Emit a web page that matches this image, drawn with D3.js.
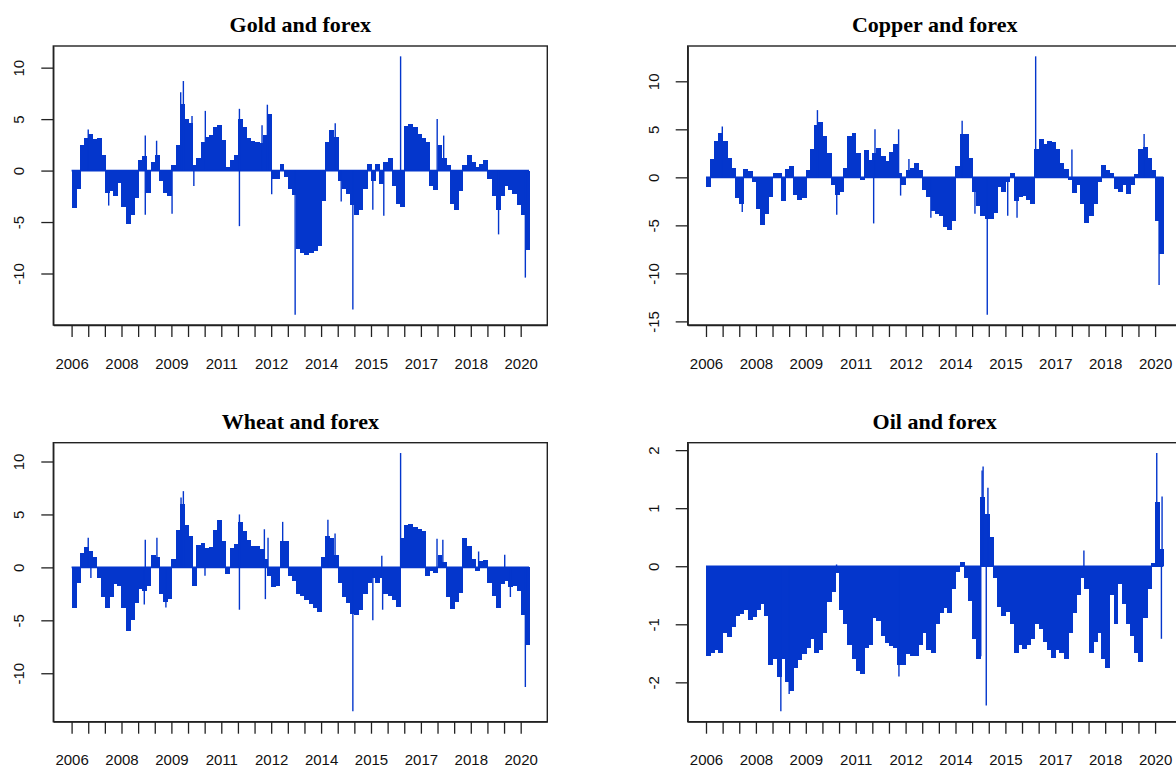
<!DOCTYPE html>
<html>
<head>
<meta charset="utf-8">
<script src="https://cdn.jsdelivr.net/npm/d3@7"></script>
<style>
  body { margin: 0; background: #fff; }
  text { font-family: "Liberation Sans", Arial, sans-serif; }
  .title { font-family: "Liberation Serif", "Times New Roman", serif; font-weight: bold; font-size: 22px; }
  .axis text { font-size: 15px; fill: #111; }
  .axis line, .axis path { stroke: #222; stroke-width: 1.3; }
</style>
</head>
<body>
<div id="chart"></div>
<script>
// x axis: ticks every half step of the index, labelled every third tick
var xTickLabels = ["2006", "2008", "2009", "2011", "2012", "2014", "2015", "2017", "2018", "2020"];
var step = 0.25; // one value per quarter tick

// Gold and forex
var goldValues = [-3.6, -1.8, 2.5, 3.2, 3.6, 3.1, 3.2, 1.5, -2.2, -2.0,
  -2.5, -1.2, -3.5, -5.2, -4.3, -2.7, 1.0, 1.4, -2.2, 0.8,
  1.5, -1.0, -2.2, -2.5, 0.5, 2.5, 6.5, 5.0, 4.6, 0.5,
  1.2, 2.8, 3.3, 3.5, 4.2, 4.4, 3.0, 0.3, 1.0, 1.5,
  5.0, 4.2, 3.2, 2.9, 2.8, 2.7, 3.5, 5.5, -0.8, -0.8,
  0.6, -0.6, -1.8, -2.4, -7.6, -8.0, -8.2, -8.0, -7.8, -7.3,
  -3.0, 2.8, 3.9, 3.3, -1.0, -1.8, -2.3, -3.3, -4.3, -3.8,
  -1.8, 0.6, -1.0, 0.6, -1.3, 0.8, 1.2, -1.5, -3.2, -3.5,
  4.3, 4.5, 4.2, 3.6, 3.2, 2.8, -1.5, -1.9, 2.5, 1.2,
  0.5, -3.2, -3.8, -2.0, 0.5, 1.5, 0.8, 0.3, 0.6, 1.0,
  -0.8, -2.5, -3.8, -2.5, -1.5, -1.9, -2.3, -3.3, -4.3, -7.7];
var goldSpikes = [[1.0, 4.0], [2.23, -3.4], [4.43, 3.4], [4.43, -4.3], [5.11, 2.9], [6.04, -4.2],
  [6.56, 7.6], [6.72, 8.7], [7.24, 5.3], [7.35, -1.5], [8.04, 5.8], [10.09, 6.0], [10.09, -5.4],
  [11.45, 4.4], [11.77, 6.4], [12.03, -2.3], [13.44, -14.0], [15.85, 4.6], [16.21, -3.0],
  [16.91, -13.5], [18.11, -3.8], [18.77, -4.4], [19.78, 11.1], [21.98, 5.0], [22.37, 3.4],
  [25.67, -6.2], [27.28, -10.4]];
var goldTicks = [-10, -5, 0, 5, 10];

// Copper and forex
var copperValues = [-1.0, 1.9, 3.8, 4.6, 3.8, 2.0, 1.0, -2.2, -2.8, 0.9,
  0.7, -0.5, -3.3, -5.0, -3.8, -2.0, 0.5, 0.5, -2.5, 0.9,
  1.2, -1.8, -2.4, -2.1, 0.8, 3.0, 5.5, 5.8, 4.3, 2.5,
  -0.8, -1.8, -1.5, 1.0, 4.3, 4.6, 2.5, -0.3, 2.8, 1.8,
  2.5, 3.1, 2.2, 1.7, 2.6, 3.5, 0.5, -0.8, 0.8, 1.0,
  1.5, 0.8, -1.3, -2.0, -3.5, -3.8, -4.0, -5.2, -5.5, -4.5,
  1.2, 4.5, 4.5, 2.0, -1.5, -3.0, -4.0, -4.3, -4.3, -3.7,
  -1.0, -1.5, -0.5, 0.5, -2.5, -2.0, -1.9, -2.4, -2.8, 3.0,
  4.0, 3.5, 3.8, 3.7, 3.0, 1.5, 0.9, -0.3, -1.6, -0.8,
  -2.8, -4.8, -4.0, -2.8, -0.5, 1.3, 0.8, 0.4, -1.2, -1.5,
  -0.8, -1.7, -0.8, 0.3, 3.0, 3.2, 2.0, 0.8, -4.5, -8.0];
var copperSpikes = [[0.98, 5.3], [2.18, -3.6], [6.7, 7.0], [7.86, -3.9], [10.08, -4.8], [10.16, 5.0],
  [11.58, 5.0], [11.7, -1.9], [12.2, 1.9], [13.52, -4.2], [15.4, 5.9], [16.17, -3.8],
  [16.91, -14.3], [18.14, -4.0], [18.7, -4.2], [19.82, 12.6], [22.0, 2.9], [26.34, 4.5],
  [27.24, -11.2]];
var copperTicks = [-15, -10, -5, 0, 5, 10];

// Wheat and forex
var wheatValues = [-3.8, -1.5, 1.4, 1.9, 1.5, 1.0, -1.0, -2.8, -3.8, -2.8,
  -1.6, -1.8, -3.8, -6.0, -5.0, -3.4, -2.0, -2.2, -1.8, 1.2,
  1.0, -2.5, -3.3, -3.0, 0.8, 3.5, 6.0, 4.0, 3.0, -1.8,
  2.1, 2.3, 1.8, 1.9, 3.5, 4.5, 2.5, -0.6, 1.8, 2.2,
  4.3, 3.4, 2.6, 2.0, 2.0, 1.7, 0.8, -0.8, -1.9, -1.8,
  2.5, 2.5, -0.8, -1.3, -2.5, -2.7, -3.1, -3.5, -3.8, -4.2,
  1.0, 3.0, 2.8, 1.2, -1.5, -2.8, -3.4, -4.4, -4.5, -4.0,
  -2.5, -1.5, -1.0, -1.5, -1.0, -2.5, -2.7, -3.1, -3.7, 2.8,
  4.0, 4.1, 3.8, 3.6, 3.4, -0.8, -0.3, -0.5, 1.2, 0.5,
  -2.8, -3.9, -3.3, -2.4, 2.8, 2.0, 0.8, -0.3, 0.6, 0.7,
  -1.5, -2.7, -3.8, -1.6, -1.3, -1.9, -1.8, -2.2, -4.5, -7.3];
var wheatSpikes = [[1.0, 2.8], [1.16, -1.0], [4.37, -3.5], [4.43, 2.6], [5.13, 2.8], [5.67, -3.8],
  [6.58, 6.6], [6.72, 7.2], [8.02, -0.8], [10.09, 5.0], [10.09, -4.0], [11.59, 3.6],
  [11.65, -3.0], [11.81, 2.8], [12.69, 4.3], [15.41, 4.5], [15.84, 3.2], [16.91, -13.6],
  [18.11, -5.0], [18.65, 1.1], [18.7, -4.0], [19.78, 10.8], [21.97, 2.7], [22.32, 2.6],
  [24.47, 1.5], [26.04, 1.2], [26.38, -2.8], [27.28, -11.3]];
var wheatTicks = [-10, -5, 0, 5, 10];

// Oil and forex
var oilValues = [-1.55, -1.5, -1.45, -1.5, -1.15, -1.22, -1.05, -0.85, -0.82, -0.75,
  -0.92, -0.88, -0.75, -0.65, -0.85, -1.7, -1.6, -1.9, -1.6, -2.0,
  -2.15, -1.75, -1.62, -1.52, -1.4, -1.25, -1.5, -1.45, -1.15, -0.62,
  -0.45, -0.12, -0.75, -1.0, -1.35, -1.6, -1.8, -1.85, -1.4, -1.35,
  -0.9, -0.95, -1.2, -1.32, -1.38, -1.4, -1.7, -1.7, -1.52, -1.55,
  -1.55, -1.35, -1.15, -1.45, -1.5, -1.0, -0.8, -0.72, -0.8, -0.4,
  -0.1, 0.08, -0.2, -0.6, -1.25, -1.6, 1.2, 0.9, 0.5, -0.2,
  -0.7, -0.85, -0.78, -1.0, -1.5, -1.35, -1.42, -1.35, -1.25, -1.0,
  -1.08, -1.3, -1.45, -1.58, -1.45, -1.5, -1.6, -1.15, -0.8, -0.5,
  -0.2, -0.4, -1.5, -1.3, -1.15, -1.6, -1.75, -0.5, -1.0, -0.3,
  -0.65, -1.0, -1.2, -1.5, -1.65, -0.9, -0.4, 0.05, 1.1, 0.3];
var oilSpikes = [[4.5, -2.5], [5.0, -2.2], [7.85, 0.03], [11.6, -1.9], [16.52, -1.55], [16.6, 1.65],
  [16.66, 1.72], [16.85, -2.4], [16.95, 1.35], [22.72, 0.27], [27.1, 1.95], [27.2, 1.1],
  [27.38, -1.25], [27.42, 1.2]];
var oilTicks = [-2, -1, 0, 1, 2];

var barColor = "#0436cc";

// SVG drawing area
var width = 1176, height = 770;
var boxW = 494, boxH = 279;
var colX = [53.3, 687.7], rowY = [46, 442.7];

var svg = d3.select("#chart").append("svg")
    .attr("width", width)
    .attr("height", height);

var panels = [
  {title: "Gold and forex", values: goldValues, spikes: goldSpikes, ticks: goldTicks, col: 0, row: 0},
  {title: "Copper and forex", values: copperValues, spikes: copperSpikes, ticks: copperTicks, col: 1, row: 0},
  {title: "Wheat and forex", values: wheatValues, spikes: wheatSpikes, ticks: wheatTicks, col: 0, row: 1},
  {title: "Oil and forex", values: oilValues, spikes: oilSpikes, ticks: oilTicks, col: 1, row: 1}
];

panels.forEach(drawPanel);

function drawPanel(p) {
  var left = colX[p.col], top = rowY[p.row];
  var g = svg.append("g")
      .attr("transform", "translate(" + left + "," + top + ")");

  // R style 4% padding on both axes
  var xEnd = p.values.length * step;
  var xPad = xEnd * 0.04;
  var x = d3.scaleLinear()
      .domain([-xPad, xEnd + xPad])
      .range([0, boxW]);

  var allY = p.values.concat(p.spikes.map(function(d) { return d[1]; }));
  var ext = d3.extent(allY);
  var yPad = (ext[1] - ext[0]) * 0.04;
  var y = d3.scaleLinear()
      .domain([ext[0] - yPad, ext[1] + yPad])
      .range([boxH, 0]);

  // bars (type = "h")
  g.selectAll("rect.bar")
      .data(p.values)
    .enter().append("rect")
      .attr("class", "bar")
      .attr("x", function(d, i) { return x(i * step); })
      .attr("width", x(step) - x(0) + 0.8)
      .attr("y", function(d) { return y(Math.max(0, d)); })
      .attr("height", function(d) { return Math.abs(y(d) - y(0)); })
      .attr("shape-rendering", "crispEdges")
      .attr("fill", barColor);

  g.append("line")
      .attr("x1", x(0)).attr("x2", x(xEnd))
      .attr("y1", y(0)).attr("y2", y(0))
      .attr("stroke", barColor)
      .attr("stroke-width", 1.6);

  // thin single-day spikes
  g.selectAll("line.spike")
      .data(p.spikes)
    .enter().append("line")
      .attr("class", "spike")
      .attr("x1", function(d) { return x(d[0]); })
      .attr("x2", function(d) { return x(d[0]); })
      .attr("y1", y(0))
      .attr("y2", function(d) { return y(d[1]); })
      .attr("stroke", barColor)
      .attr("stroke-width", 1.4);

  // Axes
  var xAxis = d3.axisBottom(x)
      .tickValues(d3.range(28))
      .tickSize(12)
      .tickSizeOuter(0)
      .tickPadding(21)
      .tickFormat(function(d) { return d % 3 === 0 ? xTickLabels[d / 3] : ""; });

  g.append("g")
      .attr("class", "axis x-axis")
      .attr("transform", "translate(0," + boxH + ")")
      .call(xAxis);

  var yAxis = d3.axisLeft(y)
      .tickValues(p.ticks)
      .tickSize(12)
      .tickSizeOuter(0)
      .tickFormat(function(d) { return String(d); });

  var ya = g.append("g")
      .attr("class", "axis y-axis")
      .call(yAxis);

  ya.selectAll("text")
      .attr("x", null)
      .attr("dy", null)
      .attr("text-anchor", "middle")
      .attr("transform", "translate(-29,0)rotate(-90)");

  // box
  g.append("rect")
      .attr("width", boxW)
      .attr("height", boxH)
      .attr("fill", "none")
      .attr("stroke", "#222")
      .attr("stroke-width", 1.4);

  // Title
  g.append("text")
      .attr("class", "title")
      .attr("text-anchor", "middle")
      .attr("x", boxW / 2)
      .attr("y", -14)
      .text(p.title);
}
</script>
</body>
</html>
